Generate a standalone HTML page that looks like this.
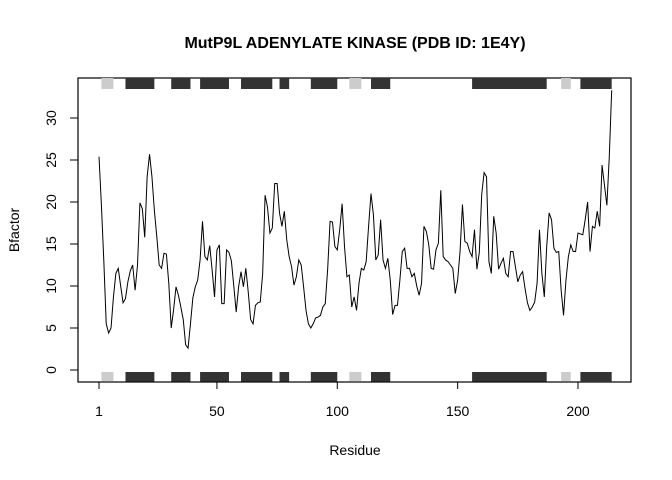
<!DOCTYPE html>
<html><head><meta charset="utf-8"><style>
html,body{margin:0;padding:0;background:#fff;}
svg{display:block;font-family:"Liberation Sans",Arial,sans-serif;}
</style></head><body>
<svg id="chart" width="672" height="480" xmlns="http://www.w3.org/2000/svg">
<text x="355" y="48" text-anchor="middle" font-size="16" font-weight="bold">MutP9L ADENYLATE KINASE (PDB ID: 1E4Y)</text>
<text x="355" y="455" text-anchor="middle" font-size="14">Residue</text>
<text transform="translate(19,230) rotate(-90)" text-anchor="middle" font-size="14">Bfactor</text>
<rect x="78" y="78" width="553" height="304" fill="none" stroke="#000" stroke-width="1.2"/>
<g id="sse"></g>
<g id="axes"></g>
<polyline id="line" fill="none" stroke="#000" stroke-width="1"/>
</svg>
<script>
const bfactor = [25.4,19.6,13,5.5,4.4,5.0,8.7,11.5,12.1,10,8,8.5,10.5,11.8,12.5,9.5,12.5,19.9,19.2,15.8,23,25.7,23,19,15.9,12.5,12.1,13.9,13.8,10.3,5.0,7.2,9.9,8.9,7.5,6.0,3.0,2.6,5.5,8.6,9.9,10.7,13.1,17.7,13.5,13.1,14.8,11.9,8.7,14.3,14.9,7.9,7.9,14.3,14.0,13,10,6.9,9.9,11.7,9.9,12.1,9.3,6.0,5.5,7.7,8,8.1,11.5,20.8,19.4,16.3,16.9,22.2,22.2,18.7,17.1,18.9,15.5,13.5,12.3,10.1,11.1,13.1,12.5,9.9,7.1,5.5,5.0,5.5,6.2,6.3,6.5,7.5,7.9,12,17.7,17.6,14.7,14.3,16.7,19.8,14.7,11.1,11.3,7.5,8.7,7.1,10.3,12.1,11.9,12.9,17.1,21.0,18.5,13.1,13.7,17.9,13.1,12.1,13.3,10.7,6.6,7.7,7.7,10.7,14.1,14.5,12.1,12.1,11.1,11.5,10,8.9,10.3,17.1,16.5,14.9,12.1,12.0,14.3,15.1,21.4,13.5,13.1,12.9,12.5,12.1,9.1,10.7,14.1,19.7,15.3,15.1,14.1,13.5,16.7,12.0,14.0,20.9,23.5,23.0,12.9,11.5,18.3,16.3,12.0,12.7,13.3,11.5,11.1,14.1,14.1,12.3,10.5,11.3,11.7,9.7,8,7.1,7.5,8.1,10.3,16.7,11.5,8.7,14.7,18.7,17.9,14.5,14.0,14.1,9.5,6.5,10.7,13.5,14.9,14.1,14.1,16.3,16.2,16.1,17.9,20.0,14.1,17.1,16.9,18.9,17.1,24.4,22,19.6,25.4,33.3];
const helixStarts = [12,31,43,60,76,89,114,156,201];
const helixEnds = [24,39,55,73,80,100,122,187,214];
const strandStarts = [2,105,193];
const strandEnds = [7,110,197];
const xTicks = [1,50,100,150,200];
const yTicks = [0,5,10,15,20,25,30];

const NS="http://www.w3.org/2000/svg";
function xs(r){return 99+(r-1)*2.407;}
function ys(v){return 370-v*8.4;}
const svg=document.getElementById('chart');
const sse=document.getElementById('sse');
const axes=document.getElementById('axes');
function mk(tag,attrs,parent){const e=document.createElementNS(NS,tag);for(const k in attrs)e.setAttribute(k,attrs[k]);parent.appendChild(e);return e;}

function drawSSE(starts,ends,color,kind){
  for(let i=0;i<starts.length;i++){
    const x0=xs(starts[i]),x1=xs(ends[i]);
    const t=mk('rect',{x:x0,y:78,width:x1-x0,height:11,fill:color},sse);
    
    
    const b=mk('rect',{x:x0,y:372,width:x1-x0,height:10,fill:color},sse);
    
    
  }
}
drawSSE(helixStarts,helixEnds,'#333333','helix');
drawSSE(strandStarts,strandEnds,'#cccccc','strand');

mk('line',{x1:xs(xTicks[0]),x2:xs(xTicks[xTicks.length-1]),y1:382,y2:382,stroke:'#000'},axes);
xTicks.forEach(t=>{
  const l=mk('line',{x1:xs(t),x2:xs(t),y1:382,y2:389,stroke:'#000'},axes);
  
  
  const tx=mk('text',{x:xs(t),y:416,'text-anchor':'middle','font-size':14},axes);
  tx.textContent=t;
  
  
});
mk('line',{x1:78,x2:78,y1:ys(yTicks[0]),y2:ys(yTicks[yTicks.length-1]),stroke:'#000'},axes);
yTicks.forEach(t=>{
  const l=mk('line',{x1:70,x2:78,y1:ys(t),y2:ys(t),stroke:'#000'},axes);
  
  
  const tx=mk('text',{transform:'translate(56,'+ys(t)+') rotate(-90)','text-anchor':'middle','font-size':14},axes);
  tx.textContent=t;
  
  
});
document.getElementById('line').setAttribute('points',bfactor.map((v,i)=>xs(i+1).toFixed(2)+','+ys(v).toFixed(2)).join(' '));
</script>
</body></html>
